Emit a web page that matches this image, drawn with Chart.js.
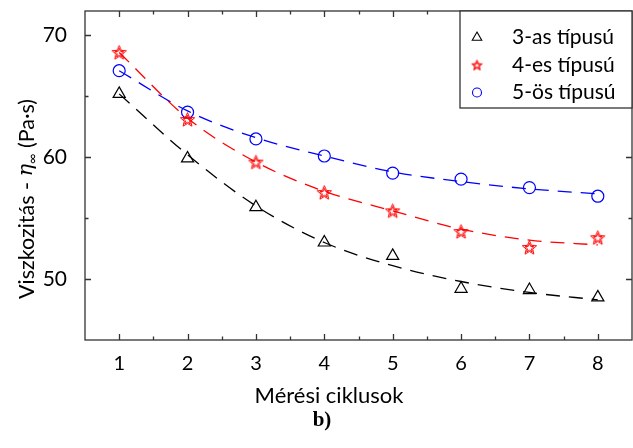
<!DOCTYPE html>
<html>
<head>
<meta charset="utf-8">
<script src="https://cdn.jsdelivr.net/npm/chart.js@4"></script>
<style>
  body { margin: 0; background: #fff; }
  canvas { display: block; }
</style>
</head>
<body>
<canvas id="chart" width="633" height="448"></canvas>
<script>
const cycles = [1, 2, 3, 4, 5, 6, 7, 8];
const xTicks = [1, 2, 3, 4, 5, 6, 7, 8];
const yTicks = [50, 60, 70];
const names = ['3-as típusú', '4-es típusú', '5-ös típusú'];

// measured points
const type3 = [65.2, 59.9, 55.9, 53.0, 51.9, 49.2, 49.1, 48.5];
const type4 = [68.6, 63.1, 59.6, 57.1, 55.6, 53.9, 52.6, 53.4];
const type5 = [67.1, 63.7, 61.5, 60.1, 58.7, 58.2, 57.5, 56.8];

// dashed fit curves at each cycle
const fit3 = [65.2, 60.2, 56.0, 53.0, 51.1, 49.8, 48.9, 48.3];
const fit4 = [68.6, 63.2, 59.6, 57.2, 55.6, 54.1, 53.2, 52.8];
const fit5 = [67.1, 63.8, 61.6, 60.1, 58.8, 58.0, 57.4, 57.0];

const FONT = 'Lato, "Open Sans", sans-serif';

function starImage(r, color, lw) {
  const s = Math.ceil(r * 2 + 4);
  const c = document.createElement('canvas');
  c.width = s; c.height = s;
  const g = c.getContext('2d');
  g.strokeStyle = color;
  g.lineWidth = lw;
  [r, r * 0.62].forEach((R) => {
    g.beginPath();
    for (let i = 0; i < 10; i++) {
      const rr = i % 2 === 0 ? R : R * 0.45;
      const a = -Math.PI / 2 + i * Math.PI / 5;
      const px = s / 2 + Math.cos(a) * rr;
      const py = s / 2 + 0.6 + Math.sin(a) * rr;
      i === 0 ? g.moveTo(px, py) : g.lineTo(px, py);
    }
    g.closePath();
    g.stroke();
  });
  return c;
}

const bigStar = starImage(7.5, '#ff0000', 1);
const smallStar = starImage(5.5, '#ff0000', 1);

const toXY = (arr) => cycles.map((c, i) => ({ x: c, y: arr[i] }));

const fitLine = (data, color) => ({
  data: toXY(data),
  showLine: true,
  borderColor: color,
  borderWidth: 1.3,
  borderDash: [14, 9],
  pointRadius: 0,
  cubicInterpolationMode: 'monotone',
  fill: false,
});

const markers = (label, data, color, style, radius, legendStyle) => ({
  label,
  data: toXY(data),
  showLine: false,
  pointStyle: style,
  pointRadius: radius,
  pointBorderColor: color,
  pointBackgroundColor: 'rgba(0,0,0,0)',
  pointBorderWidth: 1.2,
  legendStyle,
});

const datasets = [
  fitLine(fit3, '#000000'),
  fitLine(fit4, '#ff0000'),
  fitLine(fit5, '#0000ff'),
  markers(names[0], type3, '#000000', 'triangle', 7, 'triangle'),
  markers(names[1], type4, '#ff0000', bigStar, 7, smallStar),
  markers(names[2], type5, '#0000ff', 'circle', 6, 'circle'),
];

const frame = {
  id: 'frame',
  afterDraw(chart) {
    const { ctx, chartArea: a, scales } = chart;
    ctx.save();
    ctx.strokeStyle = '#333333';
    ctx.lineWidth = 1.3;
    ctx.strokeRect(a.left, a.top, a.right - a.left, a.bottom - a.top);
    ctx.beginPath();
    for (let v = 1; v <= 8.01; v += 0.5) {
      const px = Math.round(scales.x.getPixelForValue(v)) + 0.5;
      const len = Number.isInteger(v) ? 6 : 3.5;
      ctx.moveTo(px, a.bottom); ctx.lineTo(px, a.bottom - len);
      ctx.moveTo(px, a.top); ctx.lineTo(px, a.top + len);
    }
    for (let v = 50; v <= 70; v += 5) {
      const py = Math.round(scales.y.getPixelForValue(v)) + 0.5;
      const len = v % 10 === 0 ? 6 : 3.5;
      ctx.moveTo(a.left, py); ctx.lineTo(a.left + len, py);
      ctx.moveTo(a.right, py); ctx.lineTo(a.right - len, py);
    }
    ctx.stroke();

    // legend box
    const bx = 460, by = a.top, bw = a.right - 460, bh = 108 - a.top;
    ctx.fillStyle = '#fff';
    ctx.fillRect(bx, by, bw, bh);
    ctx.strokeRect(bx, by, bw, bh);
    ctx.textBaseline = 'middle';
    ctx.textAlign = 'left';
    const rows = [37.5, 65, 92.5];
    datasets.slice(3).forEach((ds, i) => {
      ctx.strokeStyle = ds.pointBorderColor;
      ctx.fillStyle = 'rgba(0,0,0,0)';
      ctx.lineWidth = 1.1;
      Chart.helpers.drawPoint(ctx, {
        pointStyle: ds.legendStyle,
        radius: ds.legendStyle === 'circle' ? 4.5 : 5.5,
        rotation: 0,
        borderWidth: 1.1,
      }, 477, rows[i]);
      ctx.font = '21px ' + FONT;
      ctx.fillStyle = '#000';
      ctx.fillText(ds.label, 512, rows[i]);
    });
    ctx.restore();
  },
  beforeDatasetsDraw(chart) {
    const { ctx } = chart;
    ctx.save();
    ctx.fillStyle = '#000';
    ctx.textBaseline = 'middle';
    ctx.textAlign = 'left';
    // y title with italic eta
    ctx.translate(27, 199);
    ctx.rotate(-Math.PI / 2);
    const parts = [
      ['Viszkozitás - ', '21.5px ' + FONT, 0],
      ['\u03b7', 'italic 21px "DejaVu Serif", serif', 0],
      ['\u221e', '14px ' + FONT, 5],
      [' (Pa\u00b7s)', '21.5px ' + FONT, 0],
    ];
    let total = 0;
    parts.forEach(([t, f]) => { ctx.font = f; total += ctx.measureText(t).width; });
    let x = -total / 2;
    parts.forEach(([t, f, dy]) => {
      ctx.font = f;
      ctx.fillText(t, x, dy);
      x += ctx.measureText(t).width;
    });
    ctx.restore();

    ctx.save();
    ctx.fillStyle = '#000';
    ctx.textAlign = 'center';
    ctx.textBaseline = 'middle';
    ctx.font = '22px ' + FONT;
    ctx.fillText('Mérési ciklusok', 329, 396);
    ctx.font = 'bold 21px "Liberation Serif", "DejaVu Serif", serif';
    ctx.textBaseline = 'alphabetic';
    ctx.fillText('b)', 322, 426);
    ctx.restore();
  },
};

const noPad = (s) => {
  s.paddingTop = 0; s.paddingBottom = 0; s.paddingLeft = 0; s.paddingRight = 0;
};

new Chart(document.getElementById('chart'), {
  type: 'scatter',
  data: { datasets },
  plugins: [frame],
  options: {
    responsive: false,
    animation: false,
    layout: { autoPadding: false, padding: { top: 11, right: 1, left: 0, bottom: 0 } },
    plugins: {
      legend: { display: false },
      tooltip: { enabled: false },
    },
    scales: {
      x: {
        type: 'linear',
        min: 0.5,
        max: 8.5,
        afterBuildTicks: (s) => { s.ticks = xTicks.map((v) => ({ value: v })); },
        afterFit: (s) => { s.height = 108; noPad(s); },
        grid: { display: false },
        border: { display: false },
        ticks: { color: '#000', font: { family: FONT, size: 20 }, padding: 4 },
      },
      y: {
        type: 'linear',
        min: 45,
        max: 72,
        afterBuildTicks: (s) => { s.ticks = yTicks.map((v) => ({ value: v })); },
        afterFit: (s) => { s.width = 85; noPad(s); },
        grid: { display: false },
        border: { display: false },
        ticks: { color: '#000', font: { family: FONT, size: 21 }, padding: 10 },
      },
    },
  },
});
</script>
</body>
</html>
